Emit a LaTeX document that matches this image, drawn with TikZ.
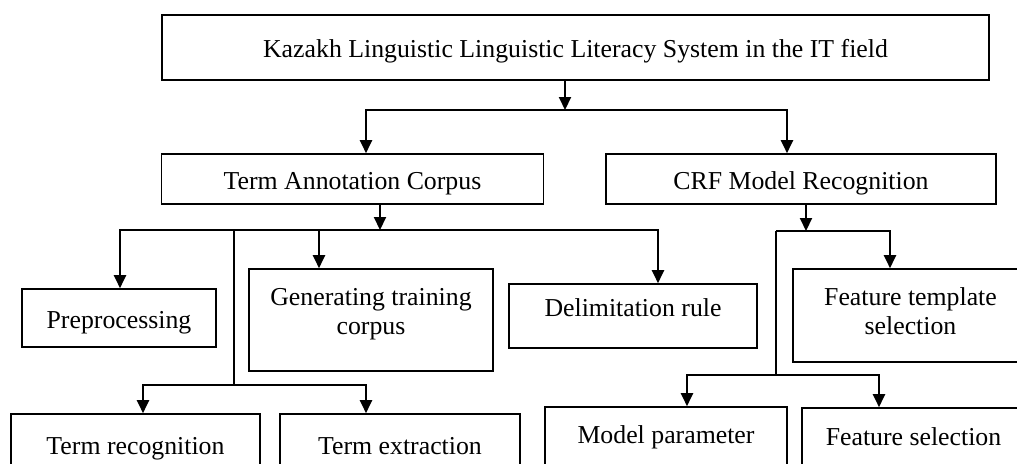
\documentclass[tikz,border=0pt]{standalone}
\usepackage{fontspec}
\setmainfont{Liberation Serif}
\usetikzlibrary{arrows.meta,positioning}
\begin{document}
\begin{tikzpicture}[x=0.5pt,y=-0.5pt,
   box/.style={draw,line width=0.8pt,inner sep=0pt,align=center,
      font=\fontsize{12.9}{14.5}\selectfont},
   one/.style={box,text height=10pt,text depth=0pt},
   link/.style={line width=1pt},
   arr/.style={link,-{Triangle[length=6.5pt,width=6pt]}}]
\useasboundingbox (0,0) rectangle (1017,463);
\clip (0,0) rectangle (1017,463);
\node[one,minimum width=413.5pt,minimum height=32.5pt] (top) at (575.5,47.5)
   {Kazakh Linguistic Linguistic Literacy System in the IT field};
\node[one,minimum width=191pt,minimum height=25pt] (tac) at (352.5,179) {Term Annotation Corpus};
\node[one,minimum width=195pt,minimum height=25pt] (crf) at (801,179) {CRF Model Recognition};
\node[one,minimum width=97pt,minimum height=29pt] (pre) at (119,318) {Preprocessing};
\node[box,minimum width=122pt,minimum height=51pt,text depth=8.3pt] (gen) at (371,320) {Generating training\\corpus};
\node[box,minimum width=124pt,minimum height=32pt,text depth=8.4pt] (del) at (633,316) {Delimitation rule};
\node[box,minimum width=117.5pt,minimum height=46.5pt,text depth=4pt] (fts) at (910.5,315.5) {Feature template\\selection};
\node[one,minimum width=124.5pt,minimum height=30pt] (trec) at (135.5,444) {Term recognition};
\node[one,minimum width=120pt,minimum height=30pt] (text) at (400,444) {Term extraction};
\node[one,minimum width=121pt,minimum height=32pt,text depth=6pt] (mp) at (666,439) {Model parameter};
\node[one,minimum width=111.5pt,minimum height=32pt,text depth=5pt] (fs) at (913.5,440) {Feature selection};

\coordinate (j0) at (565,110);
\coordinate (j0l) at (366,110);
\coordinate (j0r) at (787,110);
\draw[arr] (top.south -| j0) -- (j0);
\draw[arr] (j0) -| (j0l |- tac.north);
\draw[arr] (j0) -| (j0r |- crf.north);

\coordinate (j1) at (380,230);
\coordinate (j1a) at (120,230);
\coordinate (j1b) at (234,230);
\coordinate (j1c) at (319,230);
\coordinate (j1d) at (658,230);
\draw[arr] (tac.south -| j1) -- (j1);
\draw[arr] (j1) -| (j1a |- pre.north);
\draw[arr] (j1c) -- (j1c |- gen.north);
\draw[arr] (j1) -| (j1d |- del.north);
\coordinate (j2) at (234,385);
\coordinate (j2l) at (143,385);
\coordinate (j2r) at (366,385);
\draw[link] (j1b) -- (j2);
\draw[arr] (j2) -| (j2l |- trec.north);
\draw[arr] (j2) -| (j2r |- text.north);

\coordinate (j3) at (806,231);
\coordinate (j3l) at (776,231);
\coordinate (j3r) at (890,231);
\draw[arr] (crf.south -| j3) -- (j3);
\draw[arr] (j3l) -| (j3r |- fts.north);
\coordinate (j4) at (776,375);
\coordinate (j4l) at (687,375);
\coordinate (j4r) at (879,375);
\draw[link] (j3l) -- (j4);
\draw[arr] (j4) -| (j4l |- mp.north);
\draw[arr] (j4) -| (j4r |- fs.north);
\end{tikzpicture}
\end{document}
